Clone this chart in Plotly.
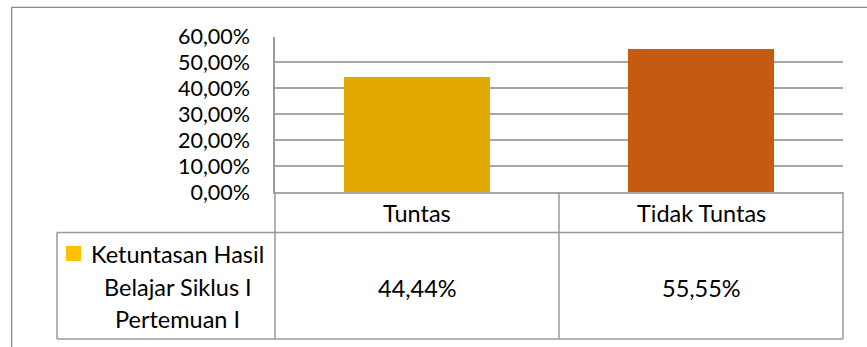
import plotly.graph_objects as go

# ---- data ----
categories = ["Tuntas", "Tidak Tuntas"]
values = [0.4444, 0.5555]
value_labels = ["44,44%", "55,55%"]
series_name_lines = ["Ketuntasan Hasil", "Belajar Siklus I", "Pertemuan I"]
y_ticks = [0.0, 0.1, 0.2, 0.3, 0.4, 0.5, 0.6]

# ---- styling ----
W, H = 867, 347
FONT = "Lato"
TXT = "#000000"
TABLE_FS = 23.5
bar_colors = ["#E2AA00", "#C55A11"]
key_color = "#FFC000"
grid_color = "#A6A6A6"
table_color = "#9A9A9A"
frame_color = "#8C8C8C"


def px(x):
    return x / W


def py(y):
    return 1 - y / H


# plot area in pixels
PL, PR, PT, PB = 275, 843, 36.5, 192
ROW1, TB = 232.5, 339
LEG_L = 57

fig = go.Figure()
fig.add_trace(go.Bar(
    x=categories, y=values, width=0.514,
    marker=dict(color=bar_colors, line=dict(width=0)),
    name=" ".join(series_name_lines), showlegend=False, hoverinfo="skip",
))

fig.update_layout(
    width=W, height=H,
    margin=dict(l=0, r=0, t=0, b=0, pad=0, autoexpand=False),
    paper_bgcolor="white", plot_bgcolor="white",
    separators=",.",
    showlegend=False,
    font=dict(family=FONT, size=22, color=TXT),
    bargap=0,
    xaxis=dict(
        domain=[px(PL), px(PR)], range=[-0.5, 1.5],
        showgrid=False, showticklabels=False, ticks="",
        showline=True, linecolor=grid_color, linewidth=1.5,
        zeroline=False, fixedrange=True, automargin=False,
    ),
    yaxis=dict(
        domain=[py(PB), py(PT)], range=[0, 0.6],
        tickvals=y_ticks, tickformat=".2%",
        showgrid=True, gridcolor=grid_color, gridwidth=1.5,
        showline=True, linecolor=table_color, linewidth=1.5,
        zeroline=False, ticks="", ticklabelstandoff=19,
        tickfont=dict(family=FONT, size=21.5, color=TXT),
        fixedrange=True, automargin=False,
    ),
)

shapes = []


def line(x0, y0, x1, y1, color=table_color, width=1.5):
    shapes.append(dict(type="line", xref="paper", yref="paper",
                       x0=px(x0), y0=py(y0), x1=px(x1), y1=py(y1),
                       line=dict(color=color, width=width)))


# outer chart frame (left and top edges)
line(11.7, 7.3, 11.7, 360, frame_color, 1.3)
line(11.7, 7.3, 880, 7.3, frame_color, 1.3)

# data table grid
line(PL, PB, PL, TB)
line(LEG_L, ROW1, PR, ROW1)
line(LEG_L, TB, PR, TB)
line(LEG_L, ROW1, LEG_L, TB)
line(PR, PB, PR, TB)
# column divider between categories, at the category boundary
shapes.append(dict(type="line", xref="x", yref="paper",
                   x0=0.5, x1=0.5, y0=py(PB), y1=py(TB),
                   line=dict(color=table_color, width=1.5)))

# legend key
shapes.append(dict(type="rect", xref="paper", yref="paper",
                   x0=px(66), x1=px(81), y0=py(261), y1=py(246),
                   fillcolor=key_color, line=dict(width=0)))

annotations = []
for cat, lab in zip(categories, value_labels):
    annotations.append(dict(x=cat, y=py(213), xref="x", yref="paper",
                            text=cat, showarrow=False,
                            xanchor="center", yanchor="middle",
                            font=dict(family=FONT, size=TABLE_FS, color=TXT)))
    annotations.append(dict(x=cat, y=py(288), xref="x", yref="paper",
                            text=lab, showarrow=False,
                            xanchor="center", yanchor="middle",
                            font=dict(family=FONT, size=TABLE_FS, color=TXT)))

for txt, yc in zip(series_name_lines, [254, 287, 319]):
    annotations.append(dict(x=px(177.5), y=py(yc), xref="paper", yref="paper",
                            text=txt, showarrow=False,
                            xanchor="center", yanchor="middle",
                            font=dict(family=FONT, size=TABLE_FS, color=TXT)))

fig.update_layout(shapes=shapes, annotations=annotations)

fig.write_html("out.html", config={"displayModeBar": False})
